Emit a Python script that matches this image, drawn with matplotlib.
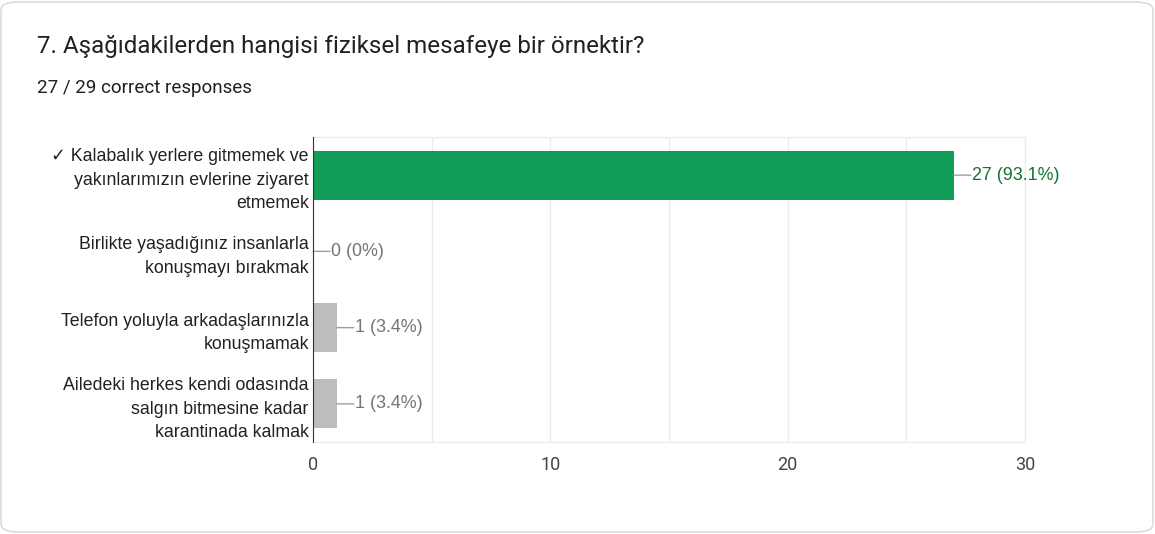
import matplotlib.pyplot as plt
from matplotlib.patches import FancyBboxPatch

labels = [
    "✓ Kalabalık yerlere gitmemek ve\nyakınlarımızın evlerine ziyaret\netmemek",
    "Birlikte yaşadığınız insanlarla\nkonuşmayı bırakmak",
    "Telefon yoluyla arkadaşlarınızla\nkonuşmamak",
    "Ailedeki herkes kendi odasında\nsalgın bitmesine kadar\nkarantinada kalmak",
]
counts = [27, 0, 1, 1]
percents = ["93.1%", "0%", "3.4%", "3.4%"]
correct = [True, False, False, False]
xticks = [0, 10, 20, 30]

fig = plt.figure(figsize=(11.55, 5.34), dpi=100)
W, H = 1155, 534

# card outline
card = FancyBboxPatch((1 / W, 2 / H), 1 - 3 / W, 1 - 4 / H,
                      boxstyle="round,pad=0,rounding_size=0.015",
                      transform=fig.transFigure, facecolor="white",
                      edgecolor="#dadce0", linewidth=1.2, zorder=-10)
fig.patches.append(card)

fig.text(37 / W, 1 - 47 / H, "7. Aşağıdakilerden hangisi fiziksel mesafeye bir örnektir?",
         fontsize=17.4, family="Roboto", color="#202124", va="center")
fig.text(37 / W, 1 - 88 / H, "27 / 29 correct responses",
         fontsize=13.5, family="Roboto", color="#202124", va="center")

ax = fig.add_axes([313 / W, 1 - 442 / H, (1025 - 313) / W, (442 - 137) / H])
ax.set_xlim(0, 30)
ax.set_ylim(3.5, -0.5)

ypos = list(range(len(labels)))
colors = ["#0f9d58" if c else "#bdbdbd" for c in correct]
ax.barh(ypos, counts, height=0.64, color=colors, zorder=3)

for y, c, p, ok in zip(ypos, counts, percents, correct):
    tcol = "#137333" if ok else "#757575"
    ax.annotate("", xy=(c, y), xytext=(17, 0), textcoords="offset pixels",
                arrowprops=dict(arrowstyle="-", color="#9e9e9e", lw=1,
                                shrinkA=0, shrinkB=0), zorder=4)
    ax.annotate(f"{c} ({p})", xy=(c, y), xytext=(18, 0), textcoords="offset pixels",
                va="center", ha="left", fontsize=12.9, family="Liberation Sans",
                color=tcol, zorder=4)

ax.set_xticks(xticks, labels=[str(t) for t in xticks])
ax.set_xticks([5, 15, 25], minor=True)
ax.grid(True, axis="x", which="both", color="#ebebeb", linewidth=1, zorder=0)
ax.tick_params(axis="x", which="both", length=0, pad=10, labelsize=13,
               labelcolor="#444444")
for lab in ax.get_xticklabels():
    lab.set_family("Roboto")

ax.set_yticks(ypos)
ax.set_yticklabels(labels, fontsize=12.8, family=["Liberation Sans", "DejaVu Sans"],
                   color="#202124", linespacing=1.5)
ax.tick_params(axis="y", length=0, pad=3)

for s in ["top", "right", "bottom"]:
    ax.spines[s].set_color("#ebebeb")
ax.spines["left"].set_color("#333333")
ax.spines["left"].set_zorder(5)

fig.savefig("out.png", dpi=100)
